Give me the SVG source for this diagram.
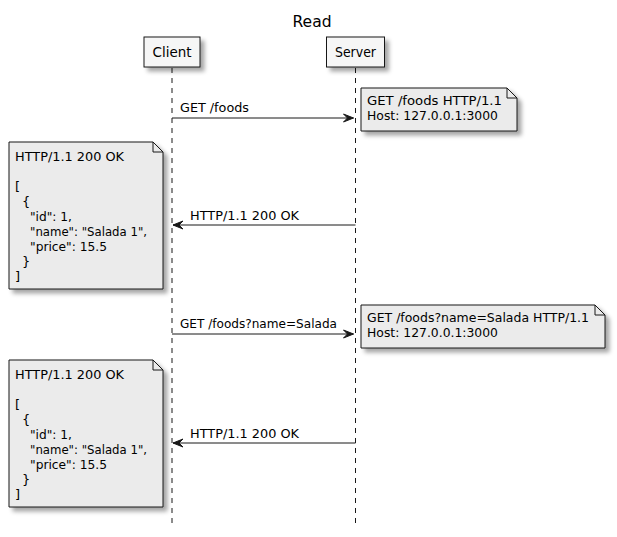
<svg xmlns="http://www.w3.org/2000/svg" width="617" height="537" viewBox="0 0 617 537">
<style>
text{font-family:"DejaVu Sans","Liberation Sans",sans-serif;font-size:13px;fill:#000}
.title{font-size:16px;text-anchor:middle}
.pname{font-size:13.5px;text-anchor:middle}
.part{fill:#F6F6F6;stroke:#181818;stroke-width:1}
.note{fill:#EBEBEB;stroke:#181818;stroke-width:1}
.fold{fill:none;stroke:#181818;stroke-width:1}
.life{stroke:#181818;stroke-width:1;stroke-dasharray:5,5;fill:none}
.msg{stroke:#181818;stroke-width:1;fill:none}
.head{fill:#181818;stroke:#181818;stroke-width:1}
</style>
<defs>
<filter id="sh" x="-20%" y="-20%" width="150%" height="150%">
<feGaussianBlur in="SourceAlpha" stdDeviation="2"/>
<feColorMatrix type="matrix" values="0 0 0 0 0  0 0 0 0 0  0 0 0 0 0  0 0 0 0.35 0"/>
<feOffset dx="4" dy="4" result="b"/>
<feMerge><feMergeNode in="b"/><feMergeNode in="SourceGraphic"/></feMerge>
</filter>
</defs>
<rect width="617" height="537" fill="#FFFFFF"/>
<text class="title" x="312" y="27" textLength="39" lengthAdjust="spacingAndGlyphs">Read</text>

<g id="lifelines">
<line class="life" x1="172" y1="68" x2="172" y2="528"/>
<line class="life" x1="355.5" y1="68" x2="355.5" y2="528"/>
</g>

<g id="client">
<rect class="part" x="144" y="37" width="56" height="30" filter="url(#sh)"/>
<text class="pname" x="172" y="57" textLength="39" lengthAdjust="spacingAndGlyphs">Client</text>
</g>
<g id="server">
<rect class="part" x="326.5" y="37" width="58" height="30" filter="url(#sh)"/>
<text class="pname" x="355.5" y="57" textLength="41" lengthAdjust="spacingAndGlyphs">Server</text>
</g>

<g id="connectors">
<line class="msg" x1="172" y1="118" x2="353.5" y2="118"/>
<polygon class="head" points="343.5,114 353.5,118 343.5,122 347.5,118"/>
<text x="180" y="112" textLength="69" lengthAdjust="spacingAndGlyphs">GET /foods</text>

<line class="msg" x1="173" y1="225" x2="355.5" y2="225"/>
<polygon class="head" points="183,221 173,225 183,229 179,225"/>
<text x="190" y="220" textLength="109" lengthAdjust="spacingAndGlyphs">HTTP/1.1 200 OK</text>

<line class="msg" x1="172" y1="334" x2="353.5" y2="334"/>
<polygon class="head" points="343.5,330 353.5,334 343.5,338 347.5,334"/>
<text x="180" y="328" textLength="157" lengthAdjust="spacingAndGlyphs">GET /foods?name=Salada</text>

<line class="msg" x1="173" y1="443" x2="355.5" y2="443"/>
<polygon class="head" points="183,439 173,443 183,447 179,443"/>
<text x="190" y="438" textLength="109" lengthAdjust="spacingAndGlyphs">HTTP/1.1 200 OK</text>
</g>

<g id="note1">
<path class="note" d="M361,88 L361,131 L517,131 L517,98 L507,88 Z" filter="url(#sh)"/>
<path class="fold" d="M507,88 L507,98 L517,98"/>
<text x="367" y="105" textLength="135" lengthAdjust="spacingAndGlyphs">GET /foods HTTP/1.1</text>
<text x="367" y="120" textLength="131" lengthAdjust="spacingAndGlyphs">Host: 127.0.0.1:3000</text>
</g>

<g id="note2">
<path class="note" d="M9,142 L9,289 L163,289 L163,152 L153,142 Z" filter="url(#sh)"/>
<path class="fold" d="M153,142 L153,152 L163,152"/>
<text x="15" y="161" textLength="109" lengthAdjust="spacingAndGlyphs">HTTP/1.1 200 OK</text>
<text x="15" y="191">[</text>
<text x="22" y="206">{</text>
<text x="30" y="221" textLength="42" lengthAdjust="spacingAndGlyphs">"id": 1,</text>
<text x="30" y="236" textLength="117" lengthAdjust="spacingAndGlyphs">"name": "Salada 1",</text>
<text x="30" y="251" textLength="77" lengthAdjust="spacingAndGlyphs">"price": 15.5</text>
<text x="22" y="266">}</text>
<text x="15" y="281">]</text>
</g>

<g id="note3">
<path class="note" d="M361,305 L361,348 L605,348 L605,315 L595,305 Z" filter="url(#sh)"/>
<path class="fold" d="M595,305 L595,315 L605,315"/>
<text x="367" y="322" textLength="222" lengthAdjust="spacingAndGlyphs">GET /foods?name=Salada HTTP/1.1</text>
<text x="367" y="337" textLength="131" lengthAdjust="spacingAndGlyphs">Host: 127.0.0.1:3000</text>
</g>

<g id="note4">
<path class="note" d="M9,360 L9,507 L163,507 L163,370 L153,360 Z" filter="url(#sh)"/>
<path class="fold" d="M153,360 L153,370 L163,370"/>
<text x="15" y="379" textLength="109" lengthAdjust="spacingAndGlyphs">HTTP/1.1 200 OK</text>
<text x="15" y="409">[</text>
<text x="22" y="424">{</text>
<text x="30" y="439" textLength="42" lengthAdjust="spacingAndGlyphs">"id": 1,</text>
<text x="30" y="454" textLength="117" lengthAdjust="spacingAndGlyphs">"name": "Salada 1",</text>
<text x="30" y="469" textLength="77" lengthAdjust="spacingAndGlyphs">"price": 15.5</text>
<text x="22" y="484">}</text>
<text x="15" y="499">]</text>
</g>
</svg>
